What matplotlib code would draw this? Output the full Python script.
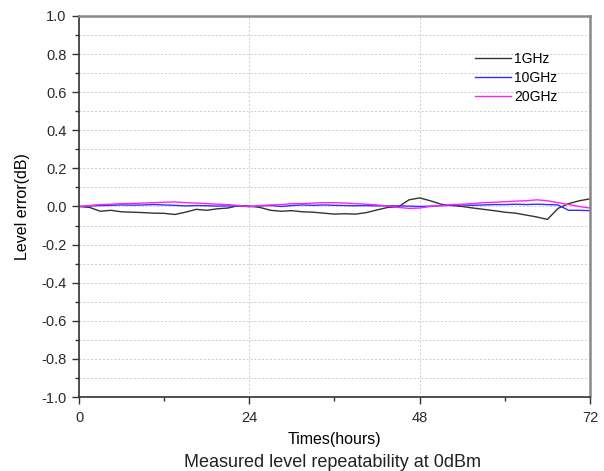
import numpy as np
from matplotlib import pyplot as plt
from matplotlib.ticker import MultipleLocator

plt.rcParams['font.family'] = ['Liberation Sans', 'DejaVu Sans']

hours = np.arange(0, 72.01, 1.5)

err_1ghz = [0.000, -0.005, -0.025, -0.020, -0.028, -0.030, -0.032, -0.035, -0.036, -0.042,
            -0.030, -0.015, -0.020, -0.012, -0.008, 0.005, 0.002, -0.005, -0.020, -0.025,
            -0.022, -0.028, -0.030, -0.035, -0.040, -0.038, -0.040, -0.032, -0.018, -0.005,
            -0.002, 0.035, 0.045, 0.030, 0.012, 0.005, 0.000, -0.008, -0.015, -0.022,
            -0.030, -0.035, -0.045, -0.055, -0.068, -0.010, 0.015, 0.030, 0.040]
err_10ghz = [0.000, 0.003, 0.005, 0.006, 0.008, 0.007, 0.008, 0.010, 0.008, 0.006,
             0.003, 0.005, 0.004, 0.002, 0.003, 0.002, 0.000, 0.003, 0.005, 0.000,
             0.005, 0.008, 0.006, 0.008, 0.006, 0.005, 0.004, 0.005, 0.003, 0.004,
             0.003, 0.002, 0.000, 0.002, 0.004, 0.006, 0.008, 0.006, 0.008, 0.010,
             0.010, 0.012, 0.010, 0.012, 0.010, 0.008, -0.020, -0.020, -0.022]
err_20ghz = [0.000, 0.005, 0.010, 0.012, 0.015, 0.016, 0.018, 0.020, 0.022, 0.024,
             0.020, 0.018, 0.015, 0.012, 0.010, 0.005, -0.002, 0.005, 0.008, 0.010,
             0.015, 0.015, 0.018, 0.020, 0.020, 0.018, 0.015, 0.012, 0.008, 0.002,
             -0.005, -0.010, -0.008, 0.000, 0.005, 0.010, 0.012, 0.015, 0.020, 0.022,
             0.025, 0.028, 0.030, 0.035, 0.030, 0.020, 0.010, 0.000, -0.008]

fig = plt.figure(figsize=(6.04, 4.71), dpi=100)
ax = fig.add_axes([0.1308, 0.1571, 0.846, 0.809])

ax.plot(hours, err_1ghz, color='#333333', lw=1.0, label='1GHz')
ax.plot(hours, err_10ghz, color='#3030ff', lw=1.0, label='10GHz')
ax.plot(hours, err_20ghz, color='#ff20ff', lw=1.0, label='20GHz')

ax.set_xlim(0, 72)
ax.set_ylim(-1.0, 1.0)
ax.xaxis.set_major_locator(MultipleLocator(24))
ax.xaxis.set_minor_locator(MultipleLocator(12))
ax.yaxis.set_major_locator(MultipleLocator(0.2))
ax.yaxis.set_minor_locator(MultipleLocator(0.1))
ax.yaxis.set_major_formatter(plt.FuncFormatter(lambda v, p: f'{v:.1f}'))

ax.grid(axis='y', which='both', color='#cccccc', ls=(0, (2, 2)), lw=0.7)
ax.grid(axis='x', which='major', color='#cccccc', ls=(0, (2, 2)), lw=0.7)

ax.tick_params(which='major', direction='out', length=5, width=1, labelsize=10.5,
               color='#333333', labelcolor='#2a2a2a')
ax.tick_params(which='minor', direction='out', length=3, width=1, color='#333333')
ax.tick_params(axis='x', pad=5)
ax.tick_params(axis='y', pad=4)

for s in ['left', 'bottom']:
    ax.spines[s].set_color('#333333')
    ax.spines[s].set_linewidth(1.2)
for s in ['top', 'right']:
    ax.spines[s].set_color('#888888')
    ax.spines[s].set_linewidth(1.8)

ax.set_ylabel('Level error(dB)', fontsize=11.5, labelpad=8)
ax.set_xlabel('Times(hours)', fontsize=11.5, labelpad=5)
fig.text(0.55, 0.008, 'Measured level repeatability at 0dBm', ha='center', fontsize=13,
         color='#222222')

ax.legend(loc='upper left', bbox_to_anchor=(0.775, 0.906), frameon=False, fontsize=10,
          handlelength=2.6, labelspacing=0.38, handletextpad=0.2, borderpad=0, borderaxespad=0)

fig.savefig('out.png', dpi=100)
